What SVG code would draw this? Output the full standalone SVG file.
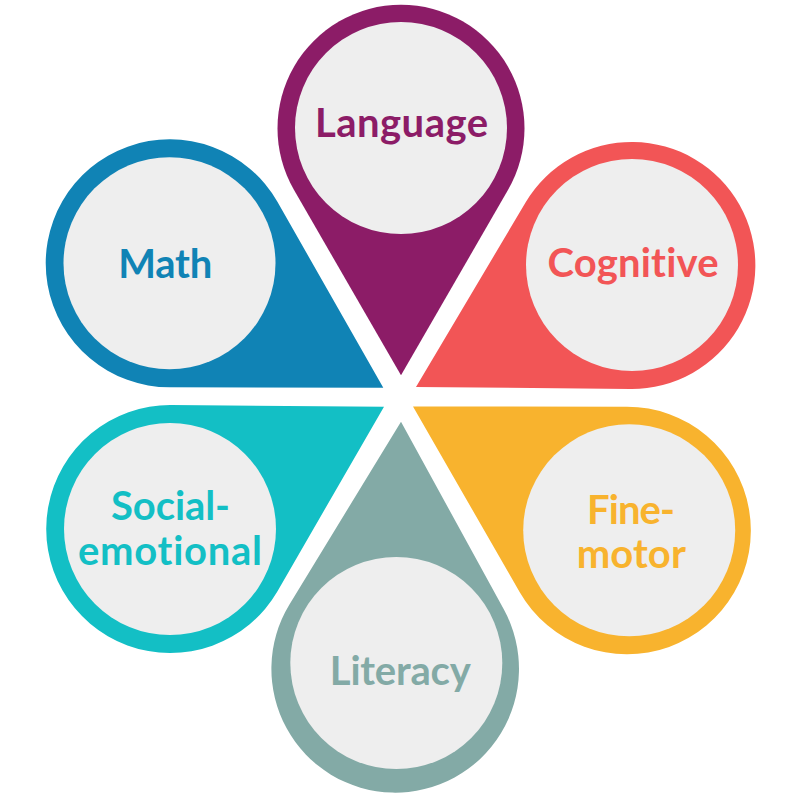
<svg xmlns="http://www.w3.org/2000/svg" width="800" height="800" viewBox="0 0 800 800">
<style>
.inner{fill:#eeeeee}
text{font-family:"Lato","Noto Sans",sans-serif;font-weight:700;font-size:40px;text-anchor:middle;font-variant-ligatures:none}
</style>
<rect width="800" height="800" fill="#ffffff"/>
<g id="connectors"></g>
<g id="language">
<path fill="#8c1c67" d="M401 375.3 L293.9 189.8 A123.5 123.5 0 1 1 508.1 189.8 Z"/>
<circle class="inner" cx="401" cy="128" r="106"/>
<text x="401.5" y="137" fill="#8c1c67" textLength="173">Language</text>
</g>
<g id="cognitive">
<path fill="#f25556" d="M416 387 L525.7 202.3 A123.5 123.5 0 1 1 630.8 388.9 Z"/>
<circle class="inner" cx="632" cy="265" r="106"/>
<text x="633" y="277" fill="#f25556" textLength="171">Cognitive</text>
</g>
<g id="fine-motor">
<path fill="#f8b32e" d="M413 406.5 L627 406.7 A123.8 123.8 0 1 1 519.6 592 Z"/>
<circle class="inner" cx="629.2" cy="530.3" r="106"/>
<text x="631" y="523.5" fill="#f8b32e" textLength="88">Fine-</text>
<text x="631.3" y="567.5" fill="#f8b32e" textLength="109">motor</text>
</g>
<g id="literacy">
<path fill="#83aaa6" d="M401 421.7 L503.9 609.6 A123.8 123.8 0 1 1 289.3 604.7 Z"/>
<circle class="inner" cx="396.3" cy="663" r="106"/>
<text x="400.3" y="685" fill="#83aaa6" textLength="141">Literacy</text>
</g>
<g id="social-emotional">
<path fill="#13bfc5" d="M384 406.7 L171 405 A124 124 0 1 0 277.5 591.2 Z"/>
<circle class="inner" cx="170" cy="529" r="106"/>
<text x="170.5" y="520" fill="#13bfc5" textLength="119">Social-</text>
<text x="170" y="564.5" fill="#13bfc5" textLength="184">emotional</text>
</g>
<g id="math">
<path fill="#1083b5" d="M383.3 387.7 L169.7 387.3 A124 124 0 1 1 277.4 201.8 Z"/>
<circle class="inner" cx="169.5" cy="263.3" r="106"/>
<text x="165.3" y="277.5" fill="#1083b5" textLength="94">Math</text>
</g>
</svg>
